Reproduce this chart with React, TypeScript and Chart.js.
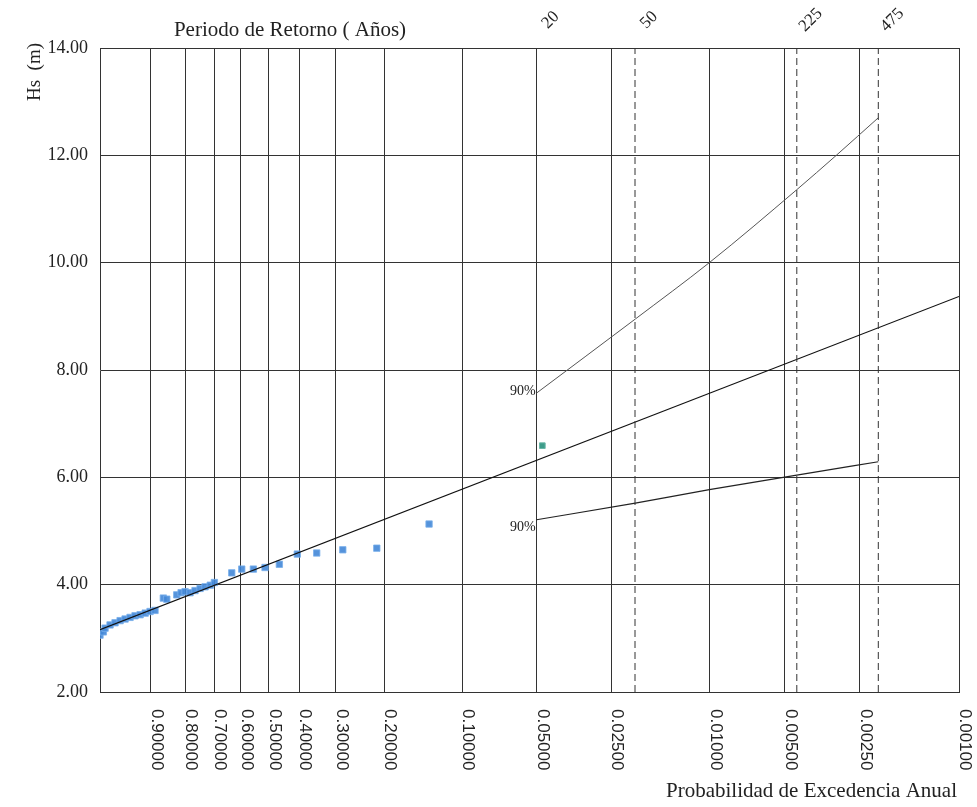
import React, { useEffect, useRef } from "react";
import { Chart, registerables } from "chart.js";

Chart.register(...registerables);

// Probability-of-exceedance grid (x positions in Gumbel reduced variate)
const probTicks = ["0.90000", "0.80000", "0.70000", "0.60000", "0.50000", "0.40000", "0.30000", "0.20000", "0.10000", "0.05000", "0.02500", "0.01000", "0.00500", "0.00250", "0.00100"];
const probTickX = [-0.834, -0.496, -0.21, 0.053, 0.329, 0.627, 0.989, 1.465, 2.233, 2.967, 3.701, 4.669, 5.408, 6.147, 7.129];
const xMin = -1.334;
const xMax = 7.129;

// Return periods (years) shown on top
const returnPeriods = ["20", "50", "225", "475"];
const returnX = [2.967, 3.937, 5.531, 6.334];
const dashedReturnX = [3.937, 5.531, 6.334];

// Y axis
const yMin = 2;
const yMax = 14;
const yStep = 2;

// Observed maxima (reduced variate, Hs in m)
const obsX = [-1.334, -1.301, -1.284, -1.235, -1.186, -1.136, -1.087, -1.038, -0.989, -0.939, -0.889, -0.841, -0.792, -0.71, -0.676, -0.578, -0.535, -0.496, -0.447, -0.398, -0.348, -0.299, -0.248, -0.207, -0.036, 0.0625, 0.177, 0.292, 0.433, 0.61, 0.801, 1.058, 1.393, 1.908];
const obsY = [3.06, 3.12, 3.19, 3.25, 3.29, 3.33, 3.36, 3.39, 3.42, 3.44, 3.47, 3.5, 3.52, 3.75, 3.73, 3.81, 3.85, 3.87, 3.85, 3.89, 3.93, 3.96, 3.99, 4.04, 4.22, 4.29, 4.29, 4.32, 4.38, 4.57, 4.59, 4.65, 4.68, 5.13];
const maxObsX = [3.024];
const maxObsY = [6.59];

// Gumbel fit line
const fitX = [-1.334, 7.129];
const fitY = [3.16, 9.37];

// 90% confidence bands
const upperX = [2.967, 3.94, 4.669, 5.531, 5.92, 6.334];
const upperY = [7.57, 8.95, 10.0, 11.36, 12.0, 12.7];
const lowerX = [2.967, 3.94, 4.669, 5.531, 6.334];
const lowerY = [5.21, 5.52, 5.77, 6.04, 6.29];

const pts = (xs: number[], ys: number[]) => xs.map((x, i) => ({ x, y: ys[i] }));

const textPlugin = {
  id: "texts",
  afterDraw(chart: any) {
    const ctx = chart.ctx;
    const xs = chart.scales.x;
    const ys = chart.scales.y;
    const area = chart.chartArea;
    ctx.save();
    ctx.fillStyle = "#222";
    // Title top
    ctx.font = "21px 'Liberation Serif'";
    ctx.textAlign = "center";
    ctx.textBaseline = "middle";
    ctx.fillText("Periodo de Retorno ( Años)", 290, 30);
    // Return period labels
    ctx.font = "17px 'Liberation Serif'";
    returnPeriods.forEach((lab, i) => {
      const px = xs.getPixelForValue(returnX[i]);
      ctx.save();
      ctx.translate(px + 14, 20);
      ctx.rotate(-Math.PI / 4);
      ctx.textAlign = "center";
      ctx.textBaseline = "middle";
      ctx.fillText(lab, 0, 0);
      ctx.restore();
    });
    // Probability labels
    ctx.font = "17px 'Liberation Sans'";
    probTicks.forEach((lab, i) => {
      const px = xs.getPixelForValue(probTickX[i]);
      ctx.save();
      ctx.translate(px + 6, area.bottom + 17);
      ctx.rotate(Math.PI / 2);
      ctx.textAlign = "left";
      ctx.textBaseline = "middle";
      ctx.fillText(lab, 0, 0);
      ctx.restore();
    });
    // X axis title
    ctx.font = "21px 'Liberation Serif'";
    ctx.textAlign = "right";
    ctx.textBaseline = "middle";
    ctx.fillText("Probabilidad de Excedencia Anual", 957, 791);
    // Y axis title
    ctx.save();
    ctx.translate(35, 72);
    ctx.rotate(-Math.PI / 2);
    ctx.textAlign = "center";
    ctx.textBaseline = "middle";
    ctx.font = "19px 'Liberation Serif'";
    ctx.fillText("Hs  (m)", 0, 0);
    ctx.restore();
    // 90% labels
    ctx.font = "14px 'Liberation Serif'";
    ctx.textAlign = "right";
    ctx.textBaseline = "middle";
    ctx.fillText("90%", xs.getPixelForValue(upperX[0]) - 1, ys.getPixelForValue(upperY[0]) - 2);
    ctx.fillText("90%", xs.getPixelForValue(lowerX[0]) - 1, ys.getPixelForValue(lowerY[0]) + 8);
    ctx.restore();
  },
};

export default function App() {
  const ref = useRef<HTMLCanvasElement | null>(null);
  useEffect(() => {
    if (!ref.current) return;
    const lineDs = (data: any[], color: string, width: number, dash: number[] = []) => ({
      type: "line" as const,
      data,
      borderColor: color,
      borderWidth: width,
      borderDash: dash,
      pointRadius: 0,
      fill: false,
      tension: 0,
      showLine: true,
    });
    const datasets: any[] = [
      ...dashedReturnX.map((x) => lineDs([{ x, y: yMin }, { x, y: yMax }], "#333", 1, [7, 4])),
      lineDs(pts(fitX, fitY), "#111", 1.2),
      { ...lineDs(pts(upperX, upperY), "#555", 1), cubicInterpolationMode: "monotone" },
      { ...lineDs(pts(lowerX, lowerY), "#222", 1.2), cubicInterpolationMode: "monotone" },
      {
        type: "scatter",
        data: pts(obsX, obsY),
        pointStyle: "rect",
        pointRadius: 4.5,
        backgroundColor: "rgba(66,135,215,0.9)",
        borderColor: "rgba(120,175,235,0.8)",
        borderWidth: 1,
      },
      {
        type: "scatter",
        data: pts(maxObsX, maxObsY),
        pointStyle: "rect",
        pointRadius: 4,
        backgroundColor: "#3e9c8a",
        borderColor: "#6bb8a8",
        borderWidth: 1,
      },
    ];
    const chart = new Chart(ref.current, {
      type: "scatter",
      data: { datasets },
      options: {
        responsive: false,
        animation: false,
        layout: { padding: { top: 48, right: 18, bottom: 0, left: 0 } },
        plugins: { legend: { display: false }, tooltip: { enabled: false }, title: { display: false } },
        scales: {
          x: {
            type: "linear",
            min: xMin,
            max: xMax,
            afterBuildTicks: (s: any) => {
              s.ticks = probTickX.map((v) => ({ value: v }));
            },
            afterFit: (s: any) => {
              s.height = 115;
            },
            ticks: { display: false },
            grid: { color: "#333", lineWidth: 1, drawTicks: false },
            border: { color: "#333", width: 1 },
          },
          y: {
            type: "linear",
            min: yMin,
            max: yMax,
            afterFit: (s: any) => {
              s.width = 100;
            },
            ticks: {
              stepSize: yStep,
              padding: 12,
              color: "#222",
              font: { family: "'Liberation Serif'", size: 18 },
              callback: (v: any) => Number(v).toFixed(2),
            },
            grid: { color: "#333", lineWidth: 1, drawTicks: false },
            border: { color: "#333", width: 1 },
          },
        },
      },
      plugins: [textPlugin],
    });
    return () => chart.destroy();
  }, []);
  return (
    <div style={{ position: "fixed", left: 0, top: 0, width: 977, height: 807, background: "#fff" }}>
      <canvas ref={ref} width={977} height={807} />
    </div>
  );
}
